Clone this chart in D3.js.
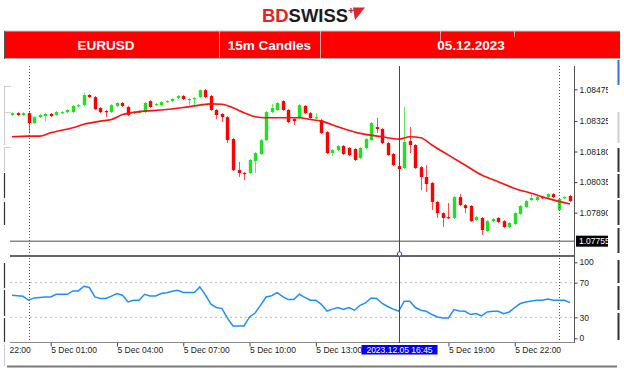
<!DOCTYPE html>
<html><head><meta charset="utf-8">
<script src="https://cdn.jsdelivr.net/npm/d3@7"></script>
<style>html,body{margin:0;padding:0;background:#fff;}svg{display:block;}</style>
</head><body>
<svg id="c" width="624" height="369"></svg>
<script>
// ---------- DATA ----------
const headerCells = ["EURUSD", "15m Candles", "05.12.2023"];
const startTime = "2023-12-04T23:15:00Z";
const stepMin = 15;
const openP = [1.08353,1.08362,1.08353,1.08362,1.08315,1.08343,1.08348,1.08358,1.08353,1.08362,
1.08367,1.08367,1.08396,1.08400,1.08448,1.08438,1.08386,1.08372,1.08367,1.08396,
1.08410,1.08391,1.08362,1.08362,1.08367,1.08419,1.08400,1.08400,1.08415,1.08419,
1.08434,1.08443,1.08424,1.08429,1.08438,1.08471,1.08443,1.08377,1.08358,1.08343,
1.08239,1.08092,1.08078,1.08078,1.08135,1.08168,1.08234,1.08367,1.08377,1.08419,
1.08377,1.08334,1.08339,1.08396,1.08362,1.08339,1.08329,1.08272,1.08173,1.08187,
1.08206,1.08197,1.08192,1.08149,1.08197,1.08234,1.08296,1.08287,1.08220,1.08168,
1.08111,1.08102,1.08230,1.08211,1.08106,1.08059,1.08031,1.07941,1.07888,1.07869,
1.07865,1.07964,1.07926,1.07922,1.07855,1.07865,1.07803,1.07850,1.07865,1.07850,
1.07822,1.07836,1.07884,1.07917,1.07950,1.07950,1.07964,1.07964,1.07978,1.07903,
1.07960,1.07969];
const highP = [1.08367,1.08367,1.08367,1.08367,1.08348,1.08358,1.08362,1.08362,1.08372,1.08372,
1.08381,1.08400,1.08405,1.08459,1.08452,1.08443,1.08391,1.08377,1.08405,1.08415,
1.08415,1.08396,1.08372,1.08377,1.08415,1.08424,1.08410,1.08419,1.08424,1.08434,
1.08448,1.08448,1.08434,1.08438,1.08474,1.08476,1.08448,1.08381,1.08362,1.08348,
1.08244,1.08130,1.08083,1.08144,1.08178,1.08239,1.08372,1.08405,1.08415,1.08424,
1.08381,1.08343,1.08405,1.08400,1.08367,1.08362,1.08334,1.08277,1.08192,1.08211,
1.08211,1.08201,1.08197,1.08201,1.08244,1.08320,1.08339,1.08291,1.08225,1.08173,
1.08116,1.08391,1.08296,1.08215,1.08111,1.08116,1.08035,1.07945,1.07893,1.07936,
1.07969,1.07978,1.07931,1.07926,1.07874,1.07869,1.07855,1.07865,1.07869,1.07855,
1.07846,1.07893,1.07926,1.07950,1.07983,1.07969,1.07969,1.07983,1.07983,1.07960,
1.07969,1.07974];
const lowP = [1.08348,1.08348,1.08348,1.08268,1.08310,1.08339,1.08324,1.08343,1.08348,1.08358,
1.08362,1.08362,1.08391,1.08396,1.08434,1.08377,1.08362,1.08343,1.08362,1.08391,
1.08391,1.08348,1.08358,1.08362,1.08362,1.08386,1.08396,1.08396,1.08410,1.08415,
1.08429,1.08424,1.08400,1.08400,1.08434,1.08434,1.08372,1.08334,1.08320,1.08220,
1.08087,1.08059,1.08045,1.08073,1.08078,1.08163,1.08230,1.08362,1.08372,1.08372,
1.08315,1.08306,1.08334,1.08358,1.08334,1.08334,1.08263,1.08168,1.08159,1.08182,
1.08163,1.08159,1.08135,1.08144,1.08192,1.08230,1.08268,1.08215,1.08159,1.08111,
1.08092,1.08097,1.08173,1.08097,1.07997,1.07988,1.07903,1.07865,1.07822,1.07860,
1.07860,1.07922,1.07888,1.07846,1.07850,1.07784,1.07798,1.07846,1.07841,1.07817,
1.07817,1.07832,1.07879,1.07912,1.07945,1.07945,1.07955,1.07960,1.07960,1.07898,
1.07955,1.07941];
const closeP = [1.08362,1.08353,1.08362,1.08315,1.08343,1.08353,1.08358,1.08348,1.08367,1.08367,
1.08377,1.08396,1.08400,1.08448,1.08438,1.08381,1.08367,1.08367,1.08400,1.08410,
1.08396,1.08353,1.08367,1.08372,1.08410,1.08391,1.08405,1.08415,1.08419,1.08429,
1.08443,1.08429,1.08429,1.08434,1.08471,1.08438,1.08377,1.08353,1.08343,1.08234,
1.08092,1.08078,1.08073,1.08140,1.08173,1.08234,1.08367,1.08386,1.08410,1.08377,
1.08320,1.08324,1.08400,1.08362,1.08339,1.08343,1.08268,1.08173,1.08187,1.08206,
1.08168,1.08163,1.08140,1.08197,1.08239,1.08315,1.08287,1.08220,1.08163,1.08116,
1.08097,1.08225,1.08211,1.08102,1.08059,1.08026,1.07941,1.07888,1.07865,1.07865,
1.07964,1.07926,1.07912,1.07850,1.07869,1.07808,1.07850,1.07860,1.07846,1.07822,
1.07841,1.07888,1.07922,1.07945,1.07960,1.07964,1.07960,1.07978,1.07964,1.07955,
1.07964,1.07945];
// moving average read at selected candles
const maIdx = [0,3,5,7,11,13,16,18,20,23,27,31,34,36,38,40,42,44,46,50,52,54,56,59,63,67,70,72,74,76,79,82,85,88,91,94,97,101];
const maVal = [1.08250,1.08253,1.08253,1.08269,1.08293,1.08309,1.08324,1.08332,1.08355,1.08369,1.08377,1.08389,1.08400,1.08406,1.08404,1.08387,1.08364,1.08345,1.08340,1.08340,1.08340,1.08332,1.08324,1.08297,1.08266,1.08250,1.08239,1.08250,1.08245,1.08211,1.08163,1.08116,1.08069,1.08037,1.08005,1.07982,1.07958,1.07931];
const rsiVal = [55.5,55,54.3,49.7,52.4,53,53.5,53.5,56.6,56.6,
56.6,60.5,60.5,65.9,64.4,53.5,51.7,51.7,54.5,57.4,
55.5,47.7,49.7,49.7,56.6,54.7,54.7,57.5,58.5,60,
61.3,58.6,58.6,58.6,65.1,56,45.1,41.3,40.1,29,
20,20,20,30.4,35,44,53.5,55,58.6,54,
50.5,50.5,56.6,53,49.7,49.7,45,37.3,39.5,41.3,
39,41.3,38.2,43.9,46.6,52.4,51.7,46,42.5,39.5,
37.3,48.6,48.6,41.3,38.2,37,33.2,30.4,29.2,29.2,
39,37.3,37,33.2,34.3,31.6,36.2,37,37,34.3,
36.2,41.3,45.9,47.7,48.9,49.7,49.7,51.2,49.7,49.7,
49.7,47];
const priceTicks = [1.08475, 1.08325, 1.08180, 1.08035, 1.07890];
const priceTickLabels = ["1.08475", "1.08325", "1.08180", "1.08035", "1.07890"];
const hLinePrice = 1.07755;
const hLineLabel = "1.07755";
const rsiTicks = [100, 70, 30, 0];
const rsiLevels = [70, 30];
const timeTicks = ["2023-12-04T22:00:00Z","2023-12-05T01:00:00Z","2023-12-05T04:00:00Z","2023-12-05T07:00:00Z","2023-12-05T10:00:00Z","2023-12-05T13:00:00Z","2023-12-05T19:00:00Z","2023-12-05T22:00:00Z"];
const timeTickLabels = ["4 Dec 22:00","5 Dec 01:00","5 Dec 04:00","5 Dec 07:00","5 Dec 10:00","5 Dec 13:00","5 Dec 19:00","5 Dec 22:00"];
const daySeps = ["2023-12-05T00:00:00Z", "2023-12-06T00:00:00Z"];
const cursorTime = "2023-12-05T16:45:00Z";
const cursorLabel = "2023.12.05 16:45";

// ---------- SCALES ----------
const times = openP.map((_, i) => new Date(Date.parse(startTime) + i * stepMin * 60000));
const x = d3.scaleUtc().domain([times[0], times[times.length - 1]]).range([12, 570]);
const y = d3.scaleLinear().domain([1.07890, 1.08475]).range([212.7, 89.3]);
const ry = d3.scaleLinear().domain([0, 100]).range([343.3, 256.7]);

const svg = d3.select("#c");
const FONT = "'Liberation Sans', Arial, sans-serif";
const defs = svg.append("defs");
defs.append("clipPath").attr("id", "plotClip").append("rect").attr("x", 10).attr("y", 62).attr("width", 564).attr("height", 194);
defs.append("clipPath").attr("id", "rsiClip").append("rect").attr("x", 10).attr("y", 257).attr("width", 564).attr("height", 86);
defs.append("clipPath").attr("id", "timeClip").append("rect").attr("x", 10).attr("y", 343).attr("width", 564).attr("height", 20);
defs.append("clipPath").attr("id", "priceClip").append("rect").attr("x", 574).attr("y", 60).attr("width", 34).attr("height", 300);

svg.append("rect").attr("width", 624).attr("height", 369).attr("fill", "#fff");

// ---------- LOGO ----------
const logo = svg.append("text").attr("x", 262).attr("y", 22).attr("font-family", FONT)
  .attr("font-weight", "bold").attr("font-size", 19).attr("textLength", 86).attr("lengthAdjust", "spacingAndGlyphs");
logo.append("tspan").attr("fill", "#e3232b").text("BD");
logo.append("tspan").attr("fill", "#1c1c1c").text("SWISS");
svg.append("path").attr("d", "M353,7.5 L365,7.5 L355,20 Z").attr("fill", "#e3232b");
svg.append("path").attr("d", "M348.5,10.5 h5 M351,8 v5").attr("stroke", "#e3232b").attr("stroke-width", 1.3);

// ---------- HEADER ----------
svg.append("rect").attr("x", 4).attr("y", 31).attr("width", 616).attr("height", 27).attr("fill", "#ff0000");
svg.append("line").attr("x1", 4).attr("x2", 620).attr("y1", 31).attr("y2", 31).attr("stroke", "#c8c8c8");
svg.append("line").attr("x1", 4).attr("x2", 620).attr("y1", 58.5).attr("y2", 58.5).attr("stroke", "#b0b0b0");
svg.append("line").attr("x1", 4.5).attr("x2", 4.5).attr("y1", 31).attr("y2", 59).attr("stroke", "#555");
[[219, 31, 58], [320, 31, 58], [440, 31, 42], [514, 31, 37]].forEach(d => {
  svg.append("line").attr("x1", d[0] + 0.5).attr("x2", d[0] + 0.5).attr("y1", d[1]).attr("y2", d[2])
    .attr("stroke", "#ffa0a0").attr("stroke-width", 1);
});
const headerX = [106, 269.5, 471];
svg.selectAll(".hdr").data(headerCells).join("text").attr("class", "hdr")
  .attr("x", (d, i) => headerX[i]).attr("y", 49.5).attr("text-anchor", "middle")
  .attr("font-family", FONT).attr("font-weight", "bold").attr("font-size", 13.5).attr("fill", "#fff").text(d => d);

// ---------- FRAME PIECES ----------
const frame = svg.append("g");
[[86, 145, "#cfcfcf"], [147, 172, "#cfcfcf"], [173, 198, "#333"], [202, 225, "#333"], [263, 288, "#333"], [290, 316, "#333"], [318, 342, "#333"], [345, 366, "#cfcfcf"]]
  .forEach(d => frame.append("line").attr("x1", 4.5).attr("x2", 4.5).attr("y1", d[0]).attr("y2", d[1]).attr("stroke", d[2]).attr("stroke-width", 1.2));
[86.5, 112.5, 147.5].forEach(v => frame.append("line").attr("x1", 4).attr("x2", 11).attr("y1", v).attr("y2", v).attr("stroke", "#cfcfcf"));
[[60, 85, "#3a6fd8"], [112, 143, "#d0d0d0"], [148, 172, "#333"], [174, 198, "#333"], [200, 225, "#333"], [228, 253, "#333"], [260, 283, "#333"], [286, 310, "#333"], [313, 340, "#333"]]
  .forEach(d => frame.append("line").attr("x1", 618.5).attr("x2", 618.5).attr("y1", d[0]).attr("y2", d[1]).attr("stroke", d[2]).attr("stroke-width", 2));
frame.append("line").attr("x1", 7).attr("x2", 617).attr("y1", 366.5).attr("y2", 366.5).attr("stroke", "#7a7a7a").attr("stroke-width", 2);

// ---------- MAIN WINDOW ----------
const plot = svg.append("g").attr("clip-path", "url(#plotClip)");
svg.append("line").attr("x1", 10).attr("x2", 574).attr("y1", y(hLinePrice)).attr("y2", y(hLinePrice))
  .attr("stroke", "#8a8a8a").attr("stroke-width", 1.5);
svg.append("line").attr("x1", 10).attr("x2", 574).attr("y1", 256).attr("y2", 256).attr("stroke", "#666").attr("stroke-width", 2);
svg.append("line").attr("x1", 10).attr("x2", 574).attr("y1", 342.5).attr("y2", 342.5).attr("stroke", "#8a8a8a").attr("stroke-width", 1);

daySeps.forEach(t => {
  const xx = Math.round(x(new Date(t))) + 0.5;
  svg.append("line").attr("x1", xx).attr("x2", xx).attr("y1", 66).attr("y2", 342)
    .attr("stroke", "#555").attr("stroke-width", 1).attr("stroke-dasharray", "1,2");
});

const green = "#1fe21f", red = "#ff0000";
const cg = plot.append("g");
openP.forEach((o, i) => {
  const c = closeP[i];
  const up = c >= o;
  const col = up ? green : red;
  const xc = Math.round(x(times[i])) + 0.5;
  cg.append("line").attr("x1", xc).attr("x2", xc).attr("y1", y(highP[i])).attr("y2", y(lowP[i]))
    .attr("stroke", col).attr("stroke-opacity", 0.7).attr("stroke-width", 1);
  const top = y(Math.max(o, c)), bot = y(Math.min(o, c));
  cg.append("rect").attr("x", xc - 1.7).attr("y", top).attr("width", 3.4).attr("height", Math.max(1.2, bot - top)).attr("fill", col);
});

const maLine = d3.line().x(d => x(times[d[0]])).y(d => y(d[1])).curve(d3.curveMonotoneX);
plot.append("path").datum(maIdx.map((k, j) => [k, maVal[j]])).attr("d", maLine)
  .attr("fill", "none").attr("stroke", "#ff1010").attr("stroke-width", 1.6);

// price axis
svg.append("line").attr("x1", 574.5).attr("x2", 574.5).attr("y1", 66).attr("y2", 343).attr("stroke", "#555").attr("stroke-width", 1);
const pWrap = svg.append("g").attr("clip-path", "url(#priceClip)");
const pAxis = pWrap.append("g").attr("transform", "translate(574.5,0)")
  .call(d3.axisRight(y).tickValues(priceTicks).tickSize(3).tickFormat((d, i) => priceTickLabels[i]));
pAxis.select(".domain").remove();
pAxis.selectAll("line").attr("stroke", "#444");
pAxis.selectAll("text").attr("x", 5).attr("font-family", FONT).attr("font-size", 8.5).attr("fill", "#222");

const hy = y(hLinePrice);
pWrap.append("rect").attr("x", 576).attr("y", hy - 5.5).attr("width", 34).attr("height", 11).attr("fill", "#000");
pWrap.append("text").attr("x", 579).attr("y", hy + 3).attr("font-family", FONT).attr("font-size", 8.5).attr("fill", "#fff").text(hLineLabel);

// ---------- RSI WINDOW ----------
rsiLevels.forEach(v => {
  svg.append("line").attr("x1", 10).attr("x2", 574).attr("y1", ry(v)).attr("y2", ry(v))
    .attr("stroke", "#bbb").attr("stroke-width", 1).attr("stroke-dasharray", "2,3");
});
const rsiLine = d3.line().x((d, i) => x(times[i])).y(d => ry(d));
svg.append("g").attr("clip-path", "url(#rsiClip)").append("path").datum(rsiVal).attr("d", rsiLine)
  .attr("fill", "none").attr("stroke", "#1e8fff").attr("stroke-width", 1.5);

const rAxis = svg.append("g").attr("transform", "translate(574.5,0)")
  .call(d3.axisRight(ry).tickValues(rsiTicks).tickSize(3));
rAxis.select(".domain").remove();
rAxis.selectAll("line").attr("stroke", "#444");
rAxis.selectAll("text").attr("x", 5).attr("font-family", FONT).attr("font-size", 8.5).attr("fill", "#222")
  .attr("dy", d => d === 100 ? "0.95em" : d === 0 ? "-0.3em" : "0.32em");
rAxis.selectAll(".tick").filter(d => d === 100).select("line").attr("transform", "translate(0,5.6)");
rAxis.selectAll(".tick").filter(d => d === 0).select("line").attr("transform", "translate(0,-5)");

// cursor
const cx = Math.round(x(new Date(cursorTime))) + 0.5;
svg.append("line").attr("x1", cx).attr("x2", cx).attr("y1", 66).attr("y2", 343).attr("stroke", "#3030ff").attr("stroke-width", 1);
svg.append("circle").attr("cx", cx).attr("cy", 254).attr("r", 2.2).attr("fill", "#fff").attr("stroke", "#3030ff").attr("stroke-width", 1);

// ---------- TIME AXIS ----------
const tWrap = svg.append("g").attr("clip-path", "url(#timeClip)");
const tAxis = tWrap.append("g").attr("transform", "translate(0,342.5)")
  .call(d3.axisBottom(x).tickValues(timeTicks.map(t => new Date(t))).tickSize(4).tickFormat((d, i) => timeTickLabels[i]));
tAxis.select(".domain").remove();
tAxis.selectAll("line").attr("stroke", "#444");
tAxis.selectAll("text").attr("text-anchor", "start").attr("x", 0).attr("y", 4).attr("dy", "0.71em")
  .attr("font-family", FONT).attr("font-size", 8.5).attr("fill", "#222");

const cw = 76;
svg.append("rect").attr("x", cx - cw / 2).attr("y", 345).attr("width", cw).attr("height", 9.5).attr("fill", "#0000ff");
svg.append("text").attr("x", cx).attr("y", 352.7).attr("text-anchor", "middle").attr("font-family", FONT)
  .attr("font-size", 8.5).attr("fill", "#fff").text(cursorLabel);
</script>
</body></html>
